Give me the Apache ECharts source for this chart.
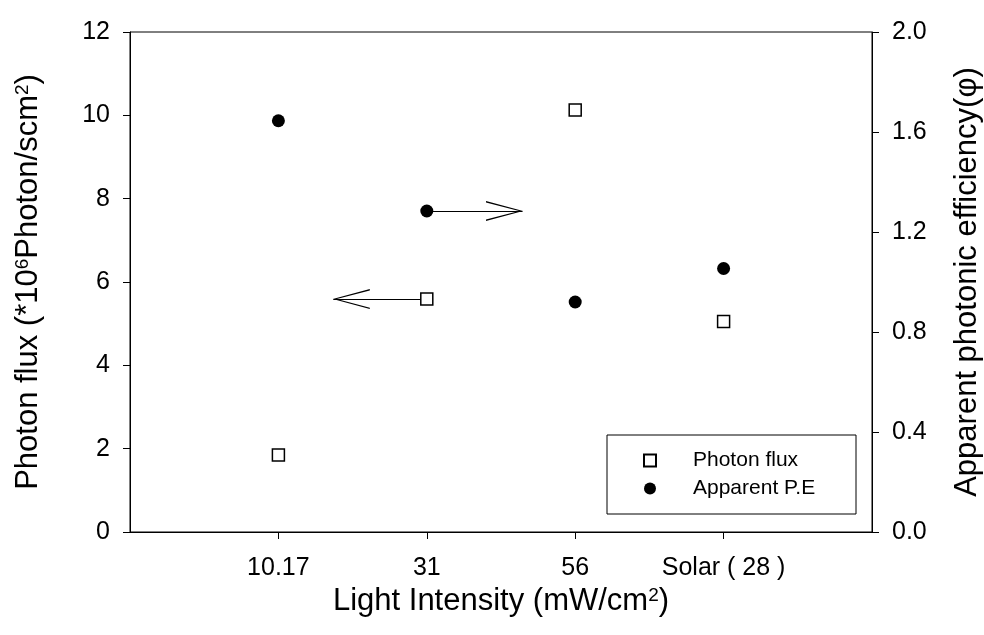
<!DOCTYPE html>
<html>
<head>
<meta charset="utf-8">
<script src="https://cdn.jsdelivr.net/npm/echarts@6/dist/echarts.min.js"></script>
<style>
    html, body { margin: 0; padding: 0; background: #fff; }
    #chart { width: 984px; height: 635px; }
</style>
</head>
<body>
<div id="chart"></div>
<script>
'use strict';

// light intensities on the x axis
const categories = ['10.17', '31', '56', 'Solar ( 28 )'];
// *10^6 photon/scm^2, left axis
const photonFlux = [1.85, 5.59, 10.13, 5.05];
// apparent photonic efficiency, right axis
const apparentPE = [1.645, 1.284, 0.92, 1.054];
const leftTicks = [0, 2, 4, 6, 8, 10, 12];
const rightTicks = [0, 0.4, 0.8, 1.2, 1.6, 2.0];
// arrows pointing each series to its axis: [from x, to x] at the 31 mW point
const fluxArrow = [2, 1.37];
const peArrow = [2, 2.645];

const font = 'Liberation Sans, Arial, Helvetica, sans-serif';
const black = '#000';
const chevron = 'path://M0,37 L10,0 L20,37 L18.6,37 L10,4 L1.4,37 Z';
const xPos = categories.map((c, i) => i + 1);

const arrow = (from, to, y) => ({
    silent: true,
    z: 1,
    animation: false,
    symbol: ['none', chevron],
    symbolSize: [20, 37],
    symbolOffset: [[0, 0], [0, 18]],
    label: { show: false },
    emphasis: { disabled: true },
    lineStyle: { color: black, width: 1.2, type: 'solid', opacity: 1 },
    data: [[{ coord: [from, y] }, { coord: [to, y] }]],
});

const chart = echarts.init(document.getElementById('chart'));
chart.setOption({
    animation: false,
    backgroundColor: '#fff',
    textStyle: { fontFamily: font, color: black },
    grid: {
        left: 130, right: 112, top: 32, bottom: 103,
        show: true, borderColor: black, borderWidth: 1,
        outerBoundsMode: 'none',
    },
    legend: {
        orient: 'vertical',
        left: 607,
        top: 435,
        padding: [15, 17, 15, 36],
        borderColor: black,
        borderWidth: 1,
        itemWidth: 12,
        itemHeight: 12,
        itemGap: 7,
        textStyle: { fontSize: 21, lineHeight: 21, color: black, padding: [0, 0, 0, 32], width: 146 },
        data: ['Photon flux', 'Apparent P.E'],
    },
    xAxis: {
        type: 'value',
        min: 0,
        max: categories.length + 1,
        name: 'Light Intensity (mW/cm{sup|2})',
        nameLocation: 'middle',
        nameGap: 53,
        nameTextStyle: {
            fontSize: 31, color: black, verticalAlign: 'top',
            rich: { sup: { fontSize: 19, verticalAlign: 'top', padding: [0, 0, 9, 0] } },
        },
        axisLine: { lineStyle: { color: black, width: 1 } },
        axisTick: { customValues: xPos, length: 7, lineStyle: { color: black } },
        axisLabel: {
            customValues: xPos,
            margin: 24,
            fontSize: 25,
            color: black,
            formatter: (v) => categories[v - 1],
        },
        splitLine: { show: false },
    },
    yAxis: [{
        type: 'value',
        min: leftTicks[0],
        max: leftTicks[leftTicks.length - 1],
        interval: 2,
        name: 'Photon flux (*10{sup|6}Photon/scm{sup|2})',
        nameLocation: 'middle',
        nameRotate: 90,
        nameGap: 86,
        nameTextStyle: {
            fontSize: 31, color: black,
            rich: { sup: { fontSize: 19, verticalAlign: 'top', padding: [0, 0, 9, 0] } },
        },
        axisLine: { show: true, lineStyle: { color: black } },
        axisTick: { show: true, length: 7, lineStyle: { color: black } },
        axisLabel: { margin: 20, fontSize: 25, color: black },
        splitLine: { show: false },
    }, {
        type: 'value',
        position: 'right',
        min: rightTicks[0],
        max: rightTicks[rightTicks.length - 1],
        interval: 0.4,
        name: 'Apparent photonic efficiency(φ)',
        nameLocation: 'middle',
        nameRotate: 90,
        nameGap: 80,
        nameTextStyle: { fontSize: 31, color: black },
        axisLine: { show: true, lineStyle: { color: black } },
        axisTick: { show: true, length: 7, lineStyle: { color: black } },
        axisLabel: { margin: 20, fontSize: 25, color: black, formatter: (v) => v.toFixed(1) },
        splitLine: { show: false },
    }],
    series: [{
        name: 'Photon flux',
        type: 'scatter',
        yAxisIndex: 0,
        symbol: 'rect',
        symbolSize: 12,
        z: 3,
        itemStyle: { color: '#fff', borderColor: black, borderWidth: 1.5, opacity: 1 },
        data: xPos.map((x, i) => [x, photonFlux[i]]),
        markLine: arrow(fluxArrow[0], fluxArrow[1], photonFlux[1]),
    }, {
        name: 'Apparent P.E',
        type: 'scatter',
        yAxisIndex: 1,
        symbol: 'circle',
        symbolSize: 13,
        z: 3,
        itemStyle: { color: black, opacity: 1 },
        data: xPos.map((x, i) => [x, apparentPE[i]]),
        markLine: arrow(peArrow[0], peArrow[1], apparentPE[1]),
    }],
});
</script>
</body>
</html>
